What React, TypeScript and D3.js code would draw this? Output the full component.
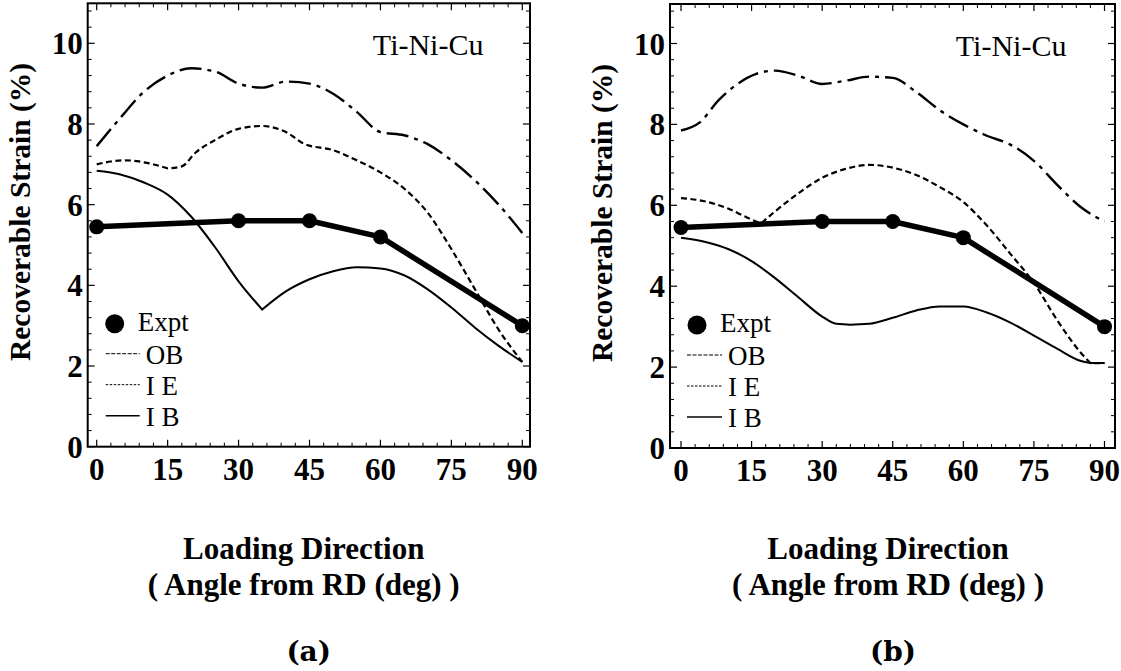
import React from 'react';
import * as d3 from 'd3';

// tick values
const xTicks = [0, 15, 30, 45, 60, 75, 90];
const yTicks = [0, 2, 4, 6, 8, 10];

// experiment (same in both panels)
const exptAngle = [0, 30, 45, 60, 90];
const exptStrain = [5.45, 5.6, 5.6, 5.2, 3.0];

// panel (a) model curves [angle, strain]
const obA = [[0, 7.45], [5, 8.15], [10, 8.8], [15, 9.2], [20, 9.38], [25, 9.3], [30, 9.0], [35, 8.9], [40, 9.05], [45, 9.0], [50, 8.75], [55, 8.3], [60, 7.8], [65, 7.72], [70, 7.5], [75, 7.1], [80, 6.6], [85, 6.0], [90, 5.3]];
const ieA = [[0, 7.0], [3, 7.07], [6, 7.1], [10, 7.05], [15, 6.9], [18, 6.95], [21, 7.3], [25, 7.6], [30, 7.88], [35, 7.95], [40, 7.8], [44, 7.5], [50, 7.35], [55, 7.1], [60, 6.8], [65, 6.4], [70, 5.8], [75, 4.9], [80, 3.9], [85, 2.9], [90, 2.1]];
const ibA = [[0, 6.84], [5, 6.75], [10, 6.55], [15, 6.25], [20, 5.7], [25, 4.95], [30, 4.1], [35, 3.4], [40, 3.85], [45, 4.15], [50, 4.35], [55, 4.45], [60, 4.42], [65, 4.25], [70, 3.9], [75, 3.45], [80, 2.95], [85, 2.5], [90, 2.1]];

// panel (b) model curves
const obB = [[0, 7.85], [4, 8.05], [8, 8.6], [12, 9.0], [16, 9.25], [20, 9.33], [25, 9.2], [30, 9.0], [35, 9.08], [40, 9.18], [45, 9.15], [50, 8.8], [55, 8.35], [60, 8.0], [65, 7.72], [70, 7.5], [75, 7.1], [80, 6.5], [85, 5.95], [90, 5.6]];
const ieB = [[0, 6.18], [5, 6.1], [10, 5.92], [14, 5.7], [17, 5.55], [20, 5.85], [25, 6.3], [30, 6.68], [35, 6.9], [40, 7.0], [45, 6.93], [50, 6.75], [55, 6.45], [60, 6.08], [65, 5.5], [70, 4.8], [75, 4.08], [80, 3.15], [85, 2.35], [87, 2.1], [90, 2.1]];
const ibB = [[0, 5.2], [5, 5.1], [10, 4.92], [15, 4.62], [20, 4.2], [25, 3.72], [30, 3.25], [33, 3.07], [36, 3.05], [40, 3.07], [45, 3.22], [50, 3.4], [55, 3.5], [60, 3.5], [65, 3.35], [70, 3.1], [75, 2.78], [80, 2.45], [85, 2.15], [87, 2.1], [90, 2.1]];

const legendNames = ['OB', 'I E', 'I B'];

const serif = '"Liberation Serif", "Times New Roman", serif';

const OB_DASH = '22,6,4,6';
const IE_DASH = '6,3.5';

// draw a smooth curve but keep corners at the given indices
function cornerPath(line, pts, breaks) {
  const cuts = [0, ...breaks, pts.length - 1];
  let d = '';
  for (let i = 0; i < cuts.length - 1; i++) {
    const s = line(pts.slice(cuts[i], cuts[i + 1] + 1)) || '';
    d += i === 0 ? s : s.replace(/^M[^A-Za-z]*/, '');
  }
  return d;
}

function Panel({ g, ob, ie, ib, ieBreaks, ibBreaks, tag }) {
  const x = d3.scaleLinear().domain([0, 90]).range([g.x0, g.x90]);
  const y = d3.scaleLinear().domain([0, 10]).range([g.y0, g.y10]);
  const bottom = y(0);
  const line = d3.line().x(d => x(d[0])).y(d => y(d[1])).curve(d3.curveMonotoneX);
  const straight = d3.line().x(d => x(d[0])).y(d => y(d[1]));
  const expt = exptAngle.map((a, i) => [a, exptStrain[i]]);

  const xMinor = d3.range(0, 91, 3).filter(v => v % 15 !== 0);
  const yMinor = d3.range(0, 10.9, 0.4).filter(v => Math.abs(v / 2 - Math.round(v / 2)) > 0.01);

  const lg = g.legend;
  // legend baselines, measured up from the bottom axis
  const legendY = [bottom - 116, bottom - 83, bottom - 52, bottom - 21];

  return (
    <g>
      {/* curves */}
      <path d={line(ob)} fill="none" stroke="#000" strokeWidth={2.4} strokeDasharray={OB_DASH} />
      <path d={cornerPath(line, ie, ieBreaks)} fill="none" stroke="#000" strokeWidth={2.2} strokeDasharray={IE_DASH} />
      <path d={cornerPath(line, ib, ibBreaks)} fill="none" stroke="#000" strokeWidth={2} />
      <path d={straight(expt)} fill="none" stroke="#000" strokeWidth={5.5} strokeLinejoin="round" />
      {expt.map((p, i) => (
        <circle key={i} cx={x(p[0])} cy={y(p[1])} r={7.5} fill="#000" />
      ))}

      {/* frame */}
      <rect x={g.left} y={g.top} width={g.right - g.left} height={bottom - g.top} fill="none" stroke="#000" strokeWidth={2} />
      {xTicks.map(t => (
        <g key={'x' + t}>
          <line x1={x(t)} x2={x(t)} y1={bottom} y2={bottom - 7} stroke="#000" strokeWidth={1.2} />
          <line x1={x(t)} x2={x(t)} y1={g.top} y2={g.top + 7} stroke="#000" strokeWidth={1.2} />
          <text x={x(t)} y={bottom + 33} textAnchor="middle" fontFamily={serif} fontWeight="bold" fontSize={31}>{t}</text>
        </g>
      ))}
      {xMinor.map(t => (
        <g key={'xm' + t}>
          <line x1={x(t)} x2={x(t)} y1={bottom} y2={bottom - 4} stroke="#000" strokeWidth={1} />
          <line x1={x(t)} x2={x(t)} y1={g.top} y2={g.top + 4} stroke="#000" strokeWidth={1} />
        </g>
      ))}
      {yTicks.map(t => (
        <g key={'y' + t}>
          <line x1={g.left} x2={g.left + 7} y1={y(t)} y2={y(t)} stroke="#000" strokeWidth={1.2} />
          <line x1={g.right} x2={g.right - 7} y1={y(t)} y2={y(t)} stroke="#000" strokeWidth={1.2} />
          <text x={g.left - 5} y={y(t) + 11} textAnchor="end" fontFamily={serif} fontWeight="bold" fontSize={31}>{t}</text>
        </g>
      ))}
      {yMinor.map((t, i) => (
        <g key={'ym' + i}>
          <line x1={g.left} x2={g.left + 4} y1={y(t)} y2={y(t)} stroke="#000" strokeWidth={1} />
          <line x1={g.right} x2={g.right - 4} y1={y(t)} y2={y(t)} stroke="#000" strokeWidth={1} />
        </g>
      ))}

      {/* annotation */}
      <text x={x(58.4)} y={y(9.7)} fontFamily={serif} fontSize={30}>Ti-Ni-Cu</text>

      {/* legend */}
      <circle cx={g.left + lg.dot} cy={bottom - 123} r={9.5} fill="#000" />
      <text x={g.left + lg.expt} y={legendY[0]} fontFamily={serif} fontSize={27}>Expt</text>
      {legendNames.map((n, i) => (
        <g key={n}>
          <line x1={g.left + lg.l0} x2={g.left + lg.l1} y1={legendY[i + 1] - 10} y2={legendY[i + 1] - 10} stroke="#000"
            strokeWidth={i === 2 ? 1.6 : 1} strokeDasharray={i === 0 ? '4,1.5' : i === 1 ? '2.5,1.5' : null} />
          <text x={g.left + lg.text} y={legendY[i + 1]} fontFamily={serif} fontSize={27}>{n}</text>
        </g>
      ))}

      {/* axis titles */}
      <text transform={`translate(${g.left - 58},${(g.top + bottom) / 2 - 13}) rotate(-90)`} textAnchor="middle"
        fontFamily={serif} fontWeight="bold" fontSize={29.5}>Recoverable Strain (%)</text>
      <text x={x(0) + 207} y={559} textAnchor="middle" fontFamily={serif} fontWeight="bold" fontSize={31}>Loading Direction</text>
      <text x={x(0) + 207} y={595} textAnchor="middle" fontFamily={serif} fontWeight="bold" fontSize={31}>( Angle from RD (deg) )</text>
      <text x={x(0) + 212} y={661} textAnchor="middle" fontFamily='"DejaVu Serif", serif' fontWeight="bold" fontSize={28}>{tag}</text>
    </g>
  );
}

const geomA = { x0: 96.7, x90: 522.3, left: 87.7, right: 530, y0: 446.7, y10: 43.3, top: 3.3, legend: { dot: 27, expt: 50, l0: 18, l1: 52, text: 58 } };
const geomB = { x0: 681, x90: 1104.5, left: 670, right: 1115, y0: 448, y10: 43.5, top: 4, legend: { dot: 27, expt: 50, l0: 17, l1: 52, text: 58 } };

export default function App() {
  return (
    <svg width={1121} height={671} style={{ position: 'absolute', left: 0, top: 0, background: '#fff' }}>
      <rect width={1121} height={671} fill="#fff" />
      <Panel g={geomA} ob={obA} ie={ieA} ib={ibA} ieBreaks={[4]} ibBreaks={[7]} tag="(a)" />
      <Panel g={geomB} ob={obB} ie={ieB} ib={ibB} ieBreaks={[4, 19]} ibBreaks={[19]} tag="(b)" />
    </svg>
  );
}
